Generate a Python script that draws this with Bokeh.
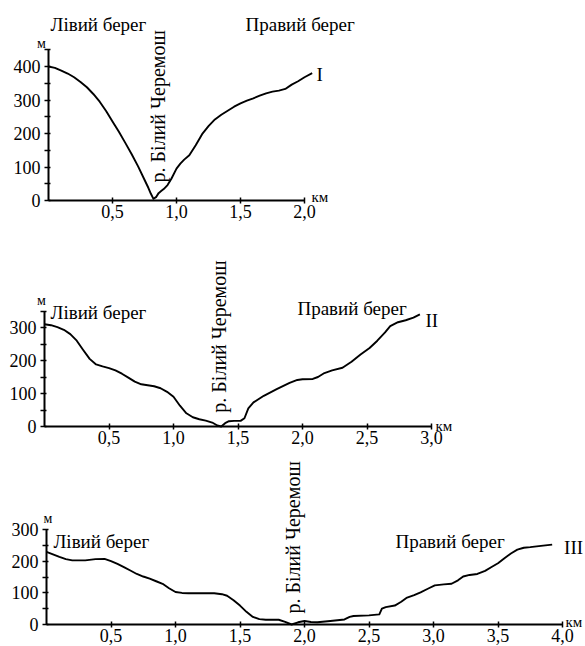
from bokeh.plotting import figure
from bokeh.layouts import column
from bokeh.models import Range1d, FixedTicker, CustomJSTickFormatter, Label
from bokeh.embed import file_html
from bokeh.resources import INLINE

# ---------------- data (distance in km, elevation in m) ----------------
dist_1 = [0, 0.05, 0.1, 0.15, 0.2, 0.25, 0.3, 0.35, 0.4, 0.45, 0.5, 0.55, 0.6,
          0.65, 0.7, 0.75, 0.78, 0.8, 0.82, 0.84, 0.86, 0.88, 0.9, 0.93, 0.96,
          1.0, 1.03, 1.06, 1.1, 1.15, 1.2, 1.25, 1.3, 1.35, 1.4, 1.45, 1.5,
          1.55, 1.6, 1.65, 1.7, 1.75, 1.8, 1.85, 1.9, 1.95, 2.0, 2.06]
elev_1 = [400, 396, 388, 379, 368, 354, 338, 318, 295, 267, 236, 205, 172,
          138, 102, 62, 38, 20, 5, 10, 22, 28, 34, 46, 65,
          95, 110, 122, 135, 165, 198, 222, 242, 256, 268, 280, 290,
          298, 305, 313, 320, 325, 328, 333, 346, 356, 368, 380]

dist_2 = [0, 0.05, 0.1, 0.15, 0.2, 0.25, 0.3, 0.35, 0.4, 0.45, 0.5, 0.55, 0.6,
          0.65, 0.7, 0.75, 0.8, 0.85, 0.9, 0.95, 1.0, 1.05, 1.1, 1.15, 1.2,
          1.25, 1.3, 1.34, 1.37, 1.4, 1.43, 1.47, 1.52, 1.55, 1.58, 1.62, 1.7,
          1.8, 1.9, 1.96, 2.0, 2.08, 2.12, 2.17, 2.23, 2.31, 2.38, 2.45, 2.52,
          2.58, 2.64, 2.68, 2.74, 2.8, 2.86, 2.91]
elev_2 = [310, 307, 301, 293, 280, 260, 232, 205, 188, 182, 177, 170, 160,
          148, 136, 128, 125, 122, 116, 105, 90, 63, 40, 28, 22,
          18, 12, 3, 0, 10, 16, 17, 17, 25, 55, 73, 93,
          113, 132, 141, 143, 144, 150, 162, 170, 178, 196, 218, 238,
          260, 285, 304, 316, 322, 330, 340]

dist_3 = [0, 0.05, 0.1, 0.15, 0.2, 0.3, 0.38, 0.45, 0.5, 0.55, 0.6, 0.65, 0.7,
          0.75, 0.8, 0.85, 0.9, 0.95, 1.0, 1.05, 1.1, 1.2, 1.3, 1.36, 1.4,
          1.45, 1.5, 1.55, 1.6, 1.65, 1.7, 1.8, 1.85, 1.9, 1.95, 2.0, 2.05,
          2.1, 2.2, 2.31, 2.35, 2.38, 2.5, 2.58, 2.6, 2.63, 2.7, 2.75, 2.79,
          2.85, 2.9, 2.96, 3.01, 3.08, 3.14, 3.19, 3.23, 3.28, 3.34, 3.4,
          3.45, 3.5, 3.55, 3.6, 3.65, 3.7, 3.75, 3.85, 3.92]
elev_3 = [230, 222, 214, 207, 203, 203, 207, 208, 201, 192, 182, 171, 160,
          152, 145, 137, 129, 115, 103, 100, 99, 99, 99, 96, 91,
          77, 60, 40, 24, 17, 15, 15, 8, 0, 7, 11, 8,
          7, 11, 16, 24, 27, 29, 32, 50, 55, 60, 72, 84,
          93, 102, 114, 124, 127, 129, 140, 152, 157, 160, 170,
          182, 194, 210, 225, 237, 243, 245, 250, 253]

x_ticks_1 = [0.5, 1.0, 1.5, 2.0]
x_ticks_2 = [0.5, 1.0, 1.5, 2.0, 2.5, 3.0]
x_ticks_3 = [0.5, 1.0, 1.5, 2.0, 2.5, 3.0, 3.5, 4.0]

y_ticks_1 = [0, 100, 200, 300, 400]
y_minor_1 = [50, 150, 250, 350, 450]
y_ticks_2 = [0, 100, 200, 300]
y_minor_2 = [50, 150, 250, 350]
y_ticks_3 = [0, 100, 200, 300]
y_minor_3 = [50, 150, 250]

left_bank = "Лівий берег"
right_bank = "Правий берег"
river = "р. Білий Черемош"
names = ["I", "II", "III"]
unit_y = "м"
unit_x = "км"

FONT = "'Liberation Serif', 'Times New Roman', serif"
W = 585


def profile(dist, elev, xt, yt, ym, x_max, y_max, height, x0_px, axis_y_px,
            px_km, px_m, name, pos):
    p = figure(width=W, height=height,
               x_range=Range1d(-x0_px / px_km, (W - x0_px) / px_km),
               y_range=Range1d(-(height - axis_y_px) / px_m, axis_y_px / px_m),
               output_backend="svg", toolbar_location=None,
               min_border=0)
    p.outline_line_color = None
    p.xgrid.visible = False
    p.ygrid.visible = False

    xa = p.xaxis[0]
    xa.fixed_location = 0
    xa.ticker = FixedTicker(ticks=xt)
    xa.formatter = CustomJSTickFormatter(code="return tick.toFixed(1).replace('.', ',');")
    xa.bounds = (0, x_max)
    xa.axis_line_width = 2
    xa.axis_line_color = "black"
    xa.major_tick_in = 3
    xa.major_tick_out = 3
    xa.major_tick_line_width = 1.5
    xa.major_tick_line_color = "black"
    xa.minor_tick_line_color = None
    xa.major_label_text_font = FONT
    xa.major_label_text_font_size = "18px"
    xa.major_label_text_color = "black"
    xa.major_label_standoff = 1

    ya = p.yaxis[0]
    ya.fixed_location = 0
    ya.ticker = FixedTicker(ticks=yt, minor_ticks=ym)
    ya.bounds = (0, y_max)
    ya.axis_line_width = 2
    ya.axis_line_color = "black"
    ya.major_tick_in = 2
    ya.major_tick_out = 4
    ya.minor_tick_in = 2
    ya.minor_tick_out = 4
    ya.major_tick_line_width = 1.5
    ya.minor_tick_line_width = 1.5
    ya.major_tick_line_color = "black"
    ya.minor_tick_line_color = "black"
    ya.major_label_text_font = FONT
    ya.major_label_text_font_size = "18px"
    ya.major_label_text_color = "black"
    ya.major_label_standoff = 4

    p.line(dist, elev, line_width=1.9, line_color="black", line_join="round")

    def lab(x, y, text, size="19px", angle=0, align="left"):
        p.add_layout(Label(x=x, y=y, text=text, text_font=FONT,
                           text_font_size=size, text_color="black",
                           text_align=align, text_baseline="middle",
                           angle=angle, angle_units="deg"))

    lab(*pos["left"], left_bank)
    lab(*pos["right"], right_bank)
    lab(*pos["name"], name)
    lab(*pos["river"], river, size="20px", angle=90)
    lab(*pos["m"], unit_y, size="14px", align="center")
    lab(*pos["km"], unit_x, size="15px")
    return p


p1 = profile(dist_1, elev_1, x_ticks_1, y_ticks_1, y_minor_1, 2.0, 450,
             240, 48, 200, 128, 0.335, names[0],
             {"left": (0.016, 525), "right": (1.539, 525), "name": (2.094, 376),
              "river": (0.852, 54), "m": (-0.055, 469), "km": (2.055, 9)})
p2 = profile(dist_2, elev_2, x_ticks_2, y_ticks_2, y_minor_2, 3.0, 350,
             215, 44, 186, 129, 0.33, names[1],
             {"left": (0.047, 345), "right": (1.961, 359), "name": (2.953, 321),
              "river": (1.349, 42), "m": (-0.023, 382), "km": (3.031, 3)})
p3 = profile(dist_3, elev_3, x_ticks_3, y_ticks_3, y_minor_3, 4.0, 300,
             191, 46, 169, 129, 0.3157, names[2],
             {"left": (0.054, 263), "right": (2.705, 264), "name": (4.012, 244),
              "river": (1.907, 35), "m": (0.012, 336), "km": (4.023, 7)})

layout = column(p1, p2, p3)
open("out.html", "w").write(file_html(layout, INLINE))
